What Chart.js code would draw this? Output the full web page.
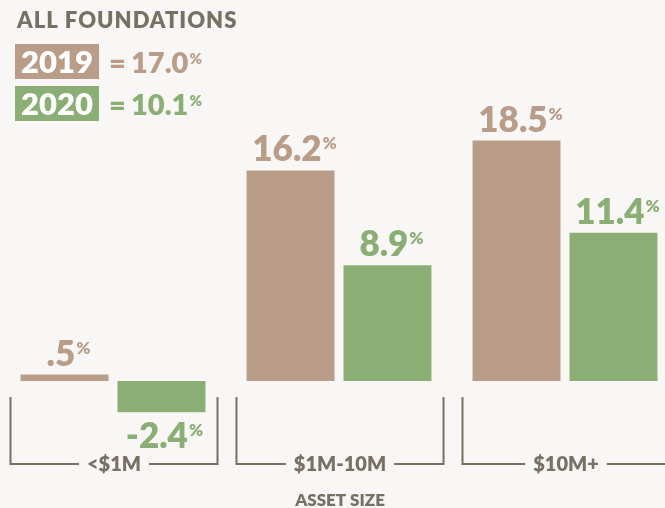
<!DOCTYPE html>
<html>
<head>
<meta charset="utf-8">
<script src="https://cdn.jsdelivr.net/npm/chart.js@4/dist/chart.umd.min.js"></script>
<style>
  html, body { margin: 0; padding: 0; background: #f9f7f5; overflow: hidden; }
  #wrap { position: relative; width: 665px; height: 508px; overflow: hidden; }
  canvas { position: absolute; left: 0; top: 0; }
</style>
</head>
<body>
<div id="wrap"><canvas id="c" width="690" height="508"></canvas></div>
<script>
// ---- data ----
const categories = ['<$1M', '$1M-10M', '$10M+'];
const seriesNames = ['2019', '2020'];
const values2019 = [0.5, 16.2, 18.5];
const values2020 = [-2.4, 8.9, 11.4];
const allFoundations = [17.0, 10.1];
const chartTitle = 'ALL FOUNDATIONS';
const axisTitle = 'ASSET SIZE';

// ---- style ----
const TAN = '#b99d89';
const GREEN = '#8aae74';
const DARK = '#777064';
const BG = '#f9f7f5';
const FONT = 'Lato, "Open Sans", sans-serif';
const W = '800 ';

function fmt(v) {
  let s = Math.abs(v).toFixed(1);
  if (s.startsWith('0')) s = s.slice(1);
  return (v < 0 ? '-' : '') + s;
}

function drawValue(ctx, text, cx, baseline, color, big, small, pctOffset) {
  ctx.save();
  ctx.fillStyle = color;
  ctx.textBaseline = 'alphabetic';
  ctx.textAlign = 'left';
  ctx.font = W + big + 'px ' + FONT;
  const w1 = ctx.measureText(text).width;
  ctx.font = W + small + 'px ' + FONT;
  const w2 = ctx.measureText('%').width;
  const total = w1 + 1 + w2;
  const x0 = cx - total / 2;
  ctx.font = W + big + 'px ' + FONT;
  ctx.fillText(text, x0, baseline);
  ctx.font = W + small + 'px ' + FONT;
  ctx.fillText('%', x0 + w1 + 1, baseline - pctOffset);
  ctx.restore();
}

const decor = {
  id: 'decor',
  beforeDraw(chart) {
    const ctx = chart.ctx;
    ctx.save();
    ctx.fillStyle = BG;
    ctx.fillRect(0, 0, chart.width, chart.height);
    ctx.restore();
  },
  afterDatasetsDraw(chart) {
    const ctx = chart.ctx;
    const xs = chart.scales.x, ys = chart.scales.y;
    const zeroY = ys.getPixelForValue(0);

    // bar value labels
    chart.data.datasets.forEach((ds, di) => {
      const meta = chart.getDatasetMeta(di);
      meta.data.forEach((bar, i) => {
        const v = ds.data[i];
        const color = di === 0 ? TAN : GREEN;
        if (v >= 0) {
          drawValue(ctx, fmt(v), bar.x + 4, bar.y - 9, color, 35, 17, 12);
        } else {
          drawValue(ctx, fmt(v), bar.x + 3, bar.y + 36, color, 35, 17, 12);
        }
      });
    });

    // brackets + category labels
    const catW = (xs.right - xs.left) / categories.length;
    const half = catW * 0.916 / 2;
    const topY = zeroY + 16;
    const lineY = zeroY + 83;
    ctx.save();
    ctx.strokeStyle = DARK;
    ctx.lineWidth = 2;
    ctx.font = W + '20px ' + FONT;
    ctx.textAlign = 'center';
    ctx.textBaseline = 'alphabetic';
    categories.forEach((c, i) => {
      const cx = xs.getPixelForValue(i) + 1;
      const l = cx - half, r = cx + half;
      const tw = ctx.measureText(c).width;
      ctx.beginPath();
      ctx.moveTo(l, topY);
      ctx.lineTo(l, lineY);
      ctx.lineTo(cx - tw / 2 - 8, lineY);
      ctx.moveTo(cx + tw / 2 + 8, lineY);
      ctx.lineTo(r, lineY);
      ctx.lineTo(r, topY);
      ctx.stroke();
      ctx.fillStyle = DARK;
      ctx.fillText(c, cx, lineY + 7);
    });
    // axis title
    ctx.font = W + '17px ' + FONT;
    ctx.fillText(axisTitle, xs.getPixelForValue(1) + 1, 506);
    ctx.restore();

    // header
    ctx.save();
    ctx.fillStyle = DARK;
    ctx.font = W + '22px ' + FONT;
    ctx.textAlign = 'left';
    ctx.textBaseline = 'alphabetic';
    try { ctx.letterSpacing = '1px'; } catch (e) {}
    ctx.fillText(chartTitle, 17, 28);
    try { ctx.letterSpacing = '0px'; } catch (e) {}
    const boxes = [{y: 44, h: 35, base: 72.5}, {y: 86, h: 35, base: 114.5}];
    seriesNames.forEach((name, i) => {
      const b = boxes[i];
      const col = i === 0 ? TAN : GREEN;
      ctx.fillStyle = col;
      ctx.fillRect(15, b.y, 84, b.h);
      ctx.fillStyle = '#ffffff';
      ctx.font = W + '31px ' + FONT;
      ctx.textAlign = 'center';
      ctx.fillText(name, 57, b.base);
      ctx.textAlign = 'left';
      ctx.fillStyle = col;
      ctx.font = W + '29px ' + FONT;
      ctx.fillText('=', 109, b.base);
      const t = allFoundations[i].toFixed(1);
      ctx.fillText(t, 131, b.base);
      const w = ctx.measureText(t).width;
      ctx.font = W + '15px ' + FONT;
      ctx.fillText('%', 131 + w + 1, b.base - 9);
    });
    ctx.restore();
  }
};

new Chart(document.getElementById('c'), {
  type: 'bar',
  data: {
    labels: categories,
    datasets: [
      { label: seriesNames[0], data: values2019, backgroundColor: TAN, borderWidth: 0,
        categoryPercentage: 0.858, barPercentage: 0.907 },
      { label: seriesNames[1], data: values2020, backgroundColor: GREEN, borderWidth: 0,
        categoryPercentage: 0.858, barPercentage: 0.907 }
    ]
  },
  options: {
    responsive: false,
    animation: false,
    layout: { padding: { left: 0, right: 12, top: 121, bottom: 62 } },
    plugins: { legend: { display: false }, tooltip: { enabled: false } },
    scales: {
      x: { display: false, offset: true },
      y: { display: false, min: -5, max: 20 }
    }
  },
  plugins: [decor]
});
</script>
</body>
</html>
